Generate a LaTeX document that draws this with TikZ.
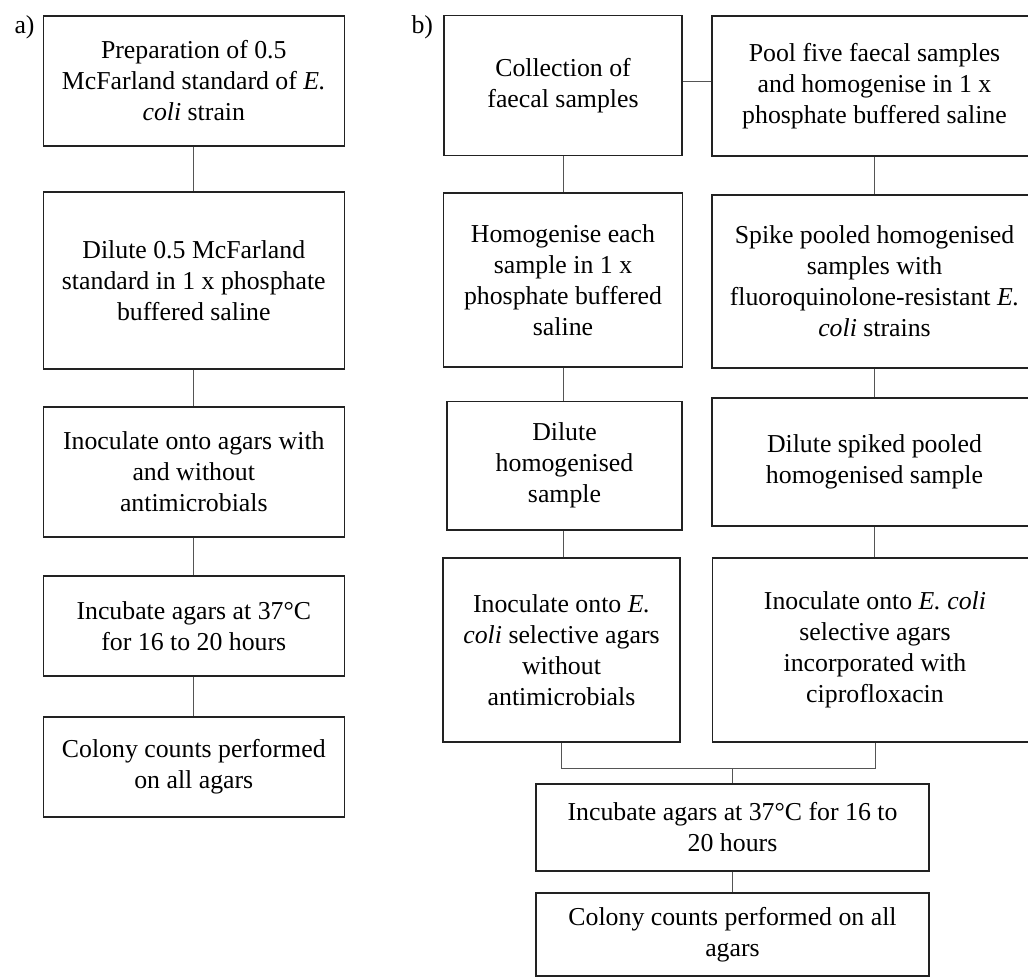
\documentclass[tikz,border=0pt]{standalone}
\usepackage{fontspec}
\setmainfont{Liberation Serif}
\definecolor{boxline}{HTML}{222222}
\definecolor{linkline}{HTML}{555555}
\begin{document}
\begin{tikzpicture}[x=1pt, y=-1pt,
    txt/.style={font=\fontsize{25.8}{31}\selectfont},
    box/.style={txt, draw=boxline, line width=1.6pt, align=center, inner sep=0pt},
    link/.style={draw=linkline, line width=1pt}]
    \useasboundingbox (0,0) rectangle (1028,977);
    \clip (0,0) rectangle (1028,977);

    % a) McFarland standard
    \node [txt, anchor=base west] (la) at (11,33) {a)};
    \node [box, minimum width=301pt, minimum height=130pt] (a1) at (193.8,80.7)
        {Preparation of 0.5\\ McFarland standard of \textit{E.}\\ \textit{coli} strain};
    \node [box, minimum width=301pt, minimum height=177pt] (a2) at (193.8,280.4)
        {Dilute 0.5 McFarland\\ standard in 1 x phosphate\\ buffered saline};
    \node [box, minimum width=301pt, minimum height=130pt] (a3) at (193.8,471.7)
        {Inoculate onto agars with\\ and without\\ antimicrobials};
    \node [box, minimum width=301pt, minimum height=100pt] (a4) at (193.8,625.7)
        {Incubate agars at 37°C\\ for 16 to 20 hours};
    \node [box, minimum width=301pt, minimum height=100pt] (a5) at (193.8,767)
        {Colony counts performed\\ on all agars};

    \draw [link] (a1) -- (a2);
    \draw [link] (a2) -- (a3);
    \draw [link] (a3) -- (a4);
    \draw [link] (a4) -- (a5);

    % b) faecal samples
    \node [txt, anchor=base west] (lb) at (408,33) {b)};
    \node [box, minimum width=238pt, minimum height=140pt] (b1) at (563,85.6)
        {Collection of\\ faecal samples};
    \node [box, minimum width=325pt, minimum height=140pt] (b2) at (874.5,85.9)
        {Pool five faecal samples\\ and homogenise in 1 x\\ phosphate buffered saline};
    \node [box, minimum width=239pt, minimum height=174pt] (b3) at (563,279.9)
        {Homogenise each\\ sample in 1 x\\ phosphate buffered\\ saline};
    \node [box, minimum width=325pt, minimum height=173pt] (b4) at (874.5,281.5)
        {Spike pooled homogenised\\ samples with\\ fluoroquinolone-resistant \textit{E.}\\ \textit{coli} strains};
    \node [box, minimum width=235pt, minimum height=128.5pt] (b5) at (564.5,465.7)
        {Dilute\\ homogenised\\ sample};
    \node [box, minimum width=325pt, minimum height=128pt] (b6) at (874.5,462)
        {Dilute spiked pooled\\ homogenised sample};
    \node [box, minimum width=237pt, minimum height=184pt] (b7) at (561.5,649.8)
        {Inoculate onto \textit{E.}\\ \textit{coli} selective agars\\ without\\ antimicrobials};
    \node [box, minimum width=325pt, minimum height=184pt] (b8) at (875,649.7)
        {Inoculate onto \textit{E. coli}\\ selective agars\\ incorporated with\\ ciprofloxacin};
    \node [box, minimum width=393pt, minimum height=87pt] (b9) at (732.5,827.5)
        {Incubate agars at 37°C for 16 to\\ 20 hours};
    \node [box, minimum width=393pt, minimum height=83pt] (b10) at (732.5,934.5)
        {Colony counts performed on all\\ agars};
    \coordinate (join) at (732.5,768);

    \draw [link] ([yshift=4pt]b1.east) -- ([yshift=4pt]b1.east -| b2.west);
    \draw [link] (b1.south) -- (b1.south |- b3.north);
    \draw [link] (b3.south) -- (b3.south |- b5.north);
    \draw [link] (b3.south |- b5.south) -- (b3.south |- b7.north);
    \draw [link] (b2) -- (b4);
    \draw [link] (b4.south) -- (b4.south |- b6.north);
    \draw [link] (b4.south |- b6.south) -- (b4.south |- b8.north);
    \draw [link] (b7.south) -- (b7.south |- join) -- (b8.south |- join) -- (b8.south);
    \draw [link] (join) -- (b9);
    \draw [link] (b9) -- (b10);
\end{tikzpicture}
\end{document}
